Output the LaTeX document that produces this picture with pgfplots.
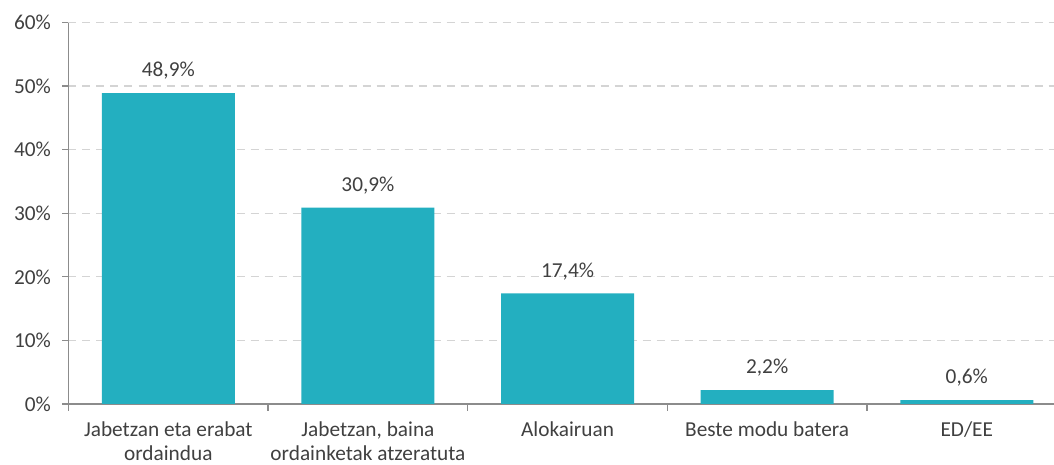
\documentclass[border=0pt]{standalone}
\usepackage{pgfplots}
\pgfplotsset{compat=1.18}
\usepackage{fontspec}
\setmainfont{Carlito}
\definecolor{barc}{HTML}{23AFC0}
\definecolor{txt}{HTML}{404040}
\definecolor{axc}{HTML}{8C8C8C}
\definecolor{gridc}{HTML}{D4D4D4}
\begin{document}
\begin{tikzpicture}
\useasboundingbox (-68.5pt,-61pt) rectangle (985.5pt,404pt);
\begin{axis}[
  scale only axis,
  width=985.5pt, height=381.5pt,
  at={(0pt,0pt)}, anchor=south west,
  xmin=-0.5, xmax=4.437,
  ymin=0, ymax=60,
  axis x line*=bottom, axis y line*=left,
  axis line style={axc, line width=1.3pt, -},
  ytick={0,10,...,60},
  yticklabel={\pgfmathprintnumber{\tick}\%},
  /pgf/number format/assume math mode=true,
  ymajorgrids,
  major grid style={gridc, line width=1.2pt, dash pattern=on 8pt off 6pt},
  ytick style={axc, line width=1.3pt},
  tick align=outside,
  major tick length=6pt,
  xtick={0,1,2,3,4},
  xticklabels={{Jabetzan eta erabat\\ordaindua},{Jabetzan, baina\\ordainketak atzeratuta},{Alokairuan},{Beste modu batera},{ED/EE}},
  x tick label style={align=center, text=txt, font=\fontsize{21.3}{24}\selectfont, anchor=north, yshift=-8pt},
  y tick label style={text=txt, font=\fontsize{21.3}{24}\selectfont, xshift=-8pt},
  xtick style={draw=none},
  extra x ticks={-0.5,0.5,1.5,2.5,3.5},
  extra x tick labels={},
  extra x tick style={xtick style={draw=axc, line width=1.3pt}, major tick length=7pt, grid=none},
  ybar, bar width=133pt,
  nodes near coords={\pgfmathprintnumber[fixed,precision=1,use comma,fixed zerofill]{\pgfplotspointmeta}\%},
  every node near coord/.append style={text=txt, font=\fontsize{21.3}{24}\selectfont, yshift=10pt},
  clip=false,
]
\addplot[fill=barc, draw=none] coordinates {(0,48.9) (1,30.9) (2,17.4) (3,2.2) (4,0.6)};
\end{axis}
\end{tikzpicture}
\end{document}
